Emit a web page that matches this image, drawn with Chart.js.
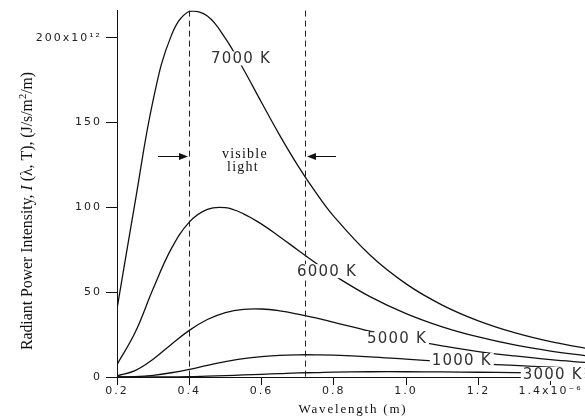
<!DOCTYPE html>
<html><head><meta charset="utf-8">
<script src="https://cdn.jsdelivr.net/npm/chart.js@4/dist/chart.umd.min.js"></script>
<style>html,body{margin:0;padding:0;background:#fff;}#wrap{width:585px;height:419px;}</style>
</head><body><div id="wrap"><canvas id="c" width="585" height="419"></canvas></div>
<script>
// Wavelength in units of 1e-6 m
const wavelengths = [0.2,0.25,0.3,0.35,0.4,0.45,0.5,0.55,0.6,0.65,0.7,0.75,0.8,0.9,1.0,1.1,1.2,1.3,1.4,1.5];
// Radiant power intensity in units of 1e12 J/s/m^2/m
const t7000 = [40.2,102.9,163.2,201.1,215.6,212.8,199.6,181.4,161.8,142.6,124.8,108.8,94.7,71.9,54.9,42.4,33.1,26.1,20.8,16.8];
const t6000 = [7.3,26.2,52.0,75.5,91.3,98.8,99.8,96.2,90.1,82.7,74.9,67.2,60.0,47.4,37.4,29.6,23.6,18.9,15.3,12.5];
const t5000 = [0.7,3.8,10.5,19.2,27.5,33.9,38.0,39.9,40.1,39.0,37.1,34.8,32.2,27.0,22.3,18.3,15.0,12.4,10.2,8.5];
const t4000 = [0.0,0.2,1.0,2.5,4.5,6.9,9.0,10.8,12.0,12.8,13.1,13.1,12.9,11.9,10.5,9.2,7.9,6.8,5.8,4.9];
const t3000 = [0.0,0.0,0.0,0.1,0.2,0.5,0.8,1.2,1.6,2.0,2.4,2.6,2.9,3.1,3.1,3.0,2.8,2.6,2.3,2.1];
const curveLabels = ['7000 K','6000 K','5000 K','1000 K','3000 K'];
const xTicks = [0.2,0.4,0.6,0.8,1.0,1.2,1.4];
const xTickLabels = ['0.2','0.4','0.6','0.8','1.0','1.2','1.4x10\u207B\u2076'];
const yTicks = [0,50,100,150,200];
const yTickLabels = ['0','50','100','150','200x10\u00B9\u00B2'];
const visibleBounds = [0.4, 0.72];

const seriesList = [t7000,t6000,t5000,t4000,t3000];
// label anchors (data units) for each curve label
const labelAnchors = [[0.543,187.8],[0.781,62.4],[0.975,23.0],[1.154,10.0],[1.406,1.8]];

const tickFont = {family:'DejaVu Sans', size:11};

const decor = {
  id:'decor',
  beforeDraw(chart){ chart.ctx.letterSpacing='2px'; },
  afterDatasetsDraw(chart){
    const ctx=chart.ctx, xs=chart.scales.x, ys=chart.scales.y, ca=chart.chartArea;
    ctx.save();
    ctx.letterSpacing='0px';
    // dashed lines
    ctx.strokeStyle='#222'; ctx.lineWidth=1; ctx.setLineDash([6,4]);
    visibleBounds.forEach(v=>{
      const px=Math.round(xs.getPixelForValue(v))+0.5;
      ctx.beginPath(); ctx.moveTo(px,ca.top); ctx.lineTo(px,ca.bottom); ctx.stroke();
    });
    ctx.setLineDash([]);
    // arrows
    const ay=Math.round(ys.getPixelForValue(130))+0.5;
    const x1=Math.round(xs.getPixelForValue(visibleBounds[0]));
    const x2=Math.round(xs.getPixelForValue(visibleBounds[1]));
    ctx.fillStyle='#111'; ctx.strokeStyle='#111';
    ctx.beginPath(); ctx.moveTo(x1-31,ay); ctx.lineTo(x1-8,ay); ctx.stroke();
    ctx.beginPath(); ctx.moveTo(x1-1,ay); ctx.lineTo(x1-10,ay-3.5); ctx.lineTo(x1-10,ay+3.5); ctx.closePath(); ctx.fill();
    ctx.beginPath(); ctx.moveTo(x2+31,ay); ctx.lineTo(x2+8,ay); ctx.stroke();
    ctx.beginPath(); ctx.moveTo(x2+2,ay); ctx.lineTo(x2+11,ay-3.5); ctx.lineTo(x2+11,ay+3.5); ctx.closePath(); ctx.fill();
    // visible light text
    ctx.font='14px "Liberation Serif"'; ctx.letterSpacing='1.2px';
    ctx.textAlign='center'; ctx.textBaseline='alphabetic'; ctx.fillStyle='#111';
    const cx=xs.getPixelForValue(0.554);
    ctx.fillText('visible',cx,ay+1.5);
    ctx.fillText('light',cx-2,ay+14);
    // curve labels
    ctx.font='15px "DejaVu Sans"'; ctx.letterSpacing='1.2px';
    ctx.textBaseline='middle';
    curveLabels.forEach((t,i)=>{
      const px=xs.getPixelForValue(labelAnchors[i][0]), py=ys.getPixelForValue(labelAnchors[i][1]);
      const w=ctx.measureText(t).width;
      ctx.fillStyle='#fff'; ctx.fillRect(px-w/2-2,py-7,w+4,14);
      ctx.fillStyle='#333'; ctx.fillText(t,px,py+1);
    });
    ctx.restore();
  },
  afterDraw(chart){
    const ctx=chart.ctx;
    ctx.save();
    ctx.fillStyle='#111';
    // x title
    ctx.font='13px "Liberation Serif"'; ctx.letterSpacing='1.8px';
    ctx.textAlign='center'; ctx.textBaseline='alphabetic';
    ctx.fillText('Wavelength (m)',353,413);
    // y title (rich)
    ctx.letterSpacing='0px';
    const parts=[
      {t:'Radiant Power Intensity, ',f:'15.8px "Liberation Serif"',dy:0},
      {t:'I',f:'italic 15.8px "Liberation Serif"',dy:0},
      {t:' (\u03BB, T), (J/s/m',f:'15.8px "Liberation Serif"',dy:0},
      {t:'2',f:'10.5px "Liberation Serif"',dy:-6},
      {t:'/m)',f:'15.8px "Liberation Serif"',dy:0}
    ];
    let total=0;
    parts.forEach(p=>{ctx.font=p.f; p.w=ctx.measureText(p.t).width; total+=p.w;});
    ctx.translate(32,211); ctx.rotate(-Math.PI/2);
    ctx.textAlign='left';
    let x=-total/2;
    parts.forEach(p=>{ctx.font=p.f; ctx.fillText(p.t,x,p.dy); x+=p.w;});
    ctx.restore();
    ctx.letterSpacing='0px';
  }
};

new Chart(document.getElementById('c'),{
  type:'line',
  data:{datasets: seriesList.map((s,i)=>({
    label:curveLabels[i],
    data: wavelengths.map((w,j)=>({x:w,y:s[j]})),
    borderColor:'#111', borderWidth:1.3, pointRadius:0, fill:false,
    tension:0.4
  }))},
  options:{
    responsive:false, animation:false, devicePixelRatio:1,
    layout:{padding:{top:10,right:0,bottom:0,left:0}},
    plugins:{legend:{display:false}, tooltip:{enabled:false}},
    scales:{
      x:{type:'linear', min:0.2, max:1.495,
        afterBuildTicks:s=>{s.ticks=xTicks.map(v=>({value:v}));},
        afterFit:s=>{s.height=42;},
        ticks:{callback:v=>xTickLabels[xTicks.indexOf(v)], autoSkip:false, maxRotation:0, font:tickFont, color:'#222', padding:0},
        grid:{drawOnChartArea:false, drawTicks:true, tickLength:8, color:'#111'},
        border:{display:true,color:'#111',width:1}
      },
      y:{type:'linear', min:0, max:216,
        afterBuildTicks:s=>{s.ticks=yTicks.map(v=>({value:v}));},
        afterFit:s=>{s.width=117;},
        ticks:{callback:v=>yTickLabels[yTicks.indexOf(v)], font:tickFont, color:'#222', padding:4},
        grid:{drawOnChartArea:false, drawTicks:true, tickLength:11, color:'#111'},
        border:{display:true,color:'#111',width:1}
      }
    }
  },
  plugins:[decor]
});
</script></body></html>
